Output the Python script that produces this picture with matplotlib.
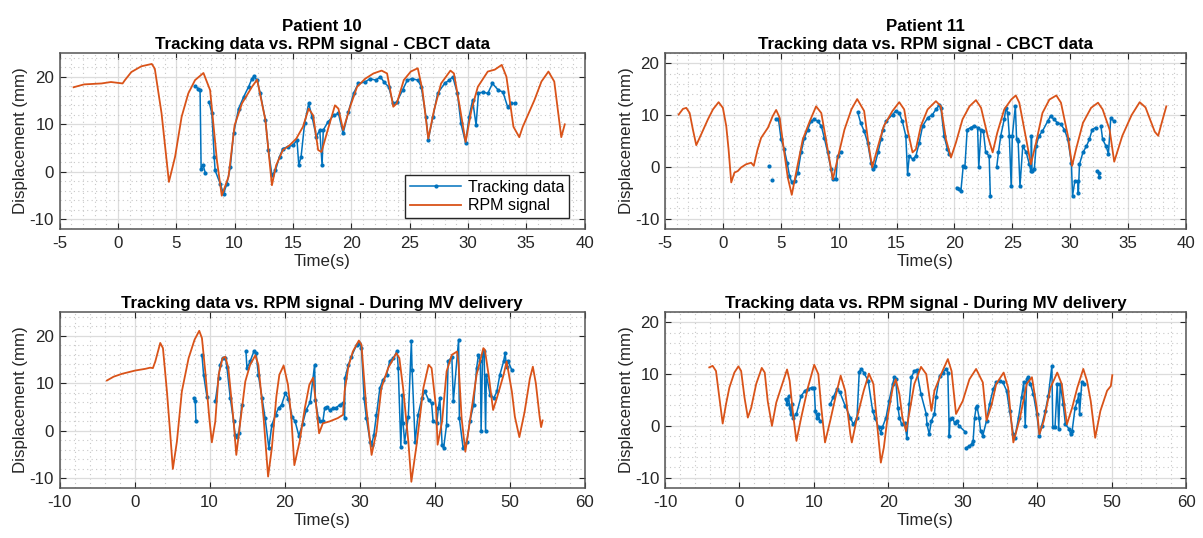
import matplotlib
matplotlib.use("Agg")
import matplotlib.pyplot as plt
from matplotlib.ticker import MultipleLocator

plt.rcParams['font.family'] = ['Liberation Sans', 'DejaVu Sans']
plt.rcParams['axes.unicode_minus'] = False

# ---------------- Patient 10 - CBCT ----------------
p10_cbct_rpm_t = [-3.8, -2.9, -1.4, -0.6, 0.4, 0.6, 1.15, 2.0, 2.9, 3.16, 3.74, 4.37, 4.9, 5.46, 6.03, 6.61,
                  7.33, 7.9, 8.48, 8.9, 9.48, 10.0, 10.63, 11.49, 11.93, 12.64, 13.2, 13.56, 14.14, 14.71,
                  15.29, 15.86, 16.35, 16.73, 17.16, 17.45, 17.9, 18.6, 18.9, 19.3, 19.9, 20.5, 21.2, 21.9,
                  22.6, 23.07, 23.6, 23.9, 24.5, 25.1, 25.7, 26.1, 26.6, 27.1, 27.7, 28.5, 28.8, 29.3, 29.8,
                  30.3, 30.85, 31.7, 32.3, 32.9, 33.3, 33.9, 34.4, 34.7, 35.7, 36.3, 36.9, 37.4, 38.0, 38.3]
p10_cbct_rpm_y = [17.8, 18.4, 18.6, 18.9, 18.6, 19.3, 21.0, 22.2, 22.7, 21.7, 12.3, -2.1, 3.2, 11.6, 16.5, 19.3,
                  20.8, 17.2, 2.5, -5.0, -1.0, 9.8, 14.4, 17.9, 19.4, 10.9, -2.8, 1.4, 4.6, 5.6,
                  7.0, 9.5, 13.3, 11.9, 4.6, 4.2, 8.1, 14.0, 13.3, 8.8, 13.7, 17.9, 19.6, 20.7,
                  21.3, 20.7, 13.7, 14.4, 19.3, 21.1, 21.8, 17.2, 7.0, 13.0, 18.6, 21.3, 20.7, 13.7, 6.3,
                  13.0, 17.9, 21.1, 21.5, 22.5, 20.0, 9.5, 7.3, 9.5, 15.1, 19.0, 21.1, 19.0, 7.3, 10.0]
p10_cbct_trk_t = [6.61, 6.9, 7.04, 7.13, 7.3, 7.5, None, 7.82, 8.05, 8.25, 8.33, 8.77, 9.05, 9.34, 9.63, 9.91,
                  10.34, 10.78, 11.2, 11.49, 11.64, 11.93, 12.2, 12.64, 12.9, 13.2, 13.5, 13.85, 14.14, 14.57,
                  15.0, 15.35, 15.5, 15.7, 16.0, 16.35, 16.64, 17.0, 17.3, 17.5, 17.6, 18.0, 18.5, 18.9, 19.3,
                  19.75, 20.2, 20.6, 21.2, 21.6, 22.1, 22.5, 22.8, 23.2, 23.6, 23.9, 24.4, 24.8, 25.2, 25.7,
                  26.0, 26.4, 26.6, 27.0, 27.4, 28.0, 28.4, 28.7, 29.1, 29.4, 29.8, 30.1, 30.4, 30.7, 30.9,
                  31.3, 31.7, 32.1, 32.6, 33.0, 33.4, 33.7, 34.0]
p10_cbct_trk_y = [18.0, 17.5, 17.3, 0.7, 1.4, -0.3, None, 14.7, 12.3, 3.2, 0.3, -2.5, -4.6, -2.5, 1.0, 8.1,
                  13.3, 15.8, 17.9, 19.6, 20.1, 19.3, 16.5, 10.9, 4.6, -0.7, 0.3, 3.2, 4.9, 5.3,
                  5.6, 6.7, 1.4, 3.2, 10.2, 14.4, 11.6, 7.4, 8.8, 1.4, 8.8, 10.5, 11.9, 12.3, 8.1,
                  12.6, 16.5, 18.6, 18.9, 19.6, 19.3, 20.0, 18.9, 17.9, 14.4, 14.7, 17.2, 19.3, 19.6, 19.3,
                  17.9, 11.6, 6.8, 11.6, 16.5, 18.6, 19.3, 20.0, 16.5, 10.2, 6.1, 11.6, 15.1, 9.8, 16.5,
                  16.8, 16.5, 18.6, 17.2, 16.8, 13.7, 14.4, 14.4]

# ---------------- Patient 11 - CBCT ----------------
p11_cbct_rpm_t = [-3.82, -3.45, -3.16, -2.87, -2.59, -2.3, -1.87, -1.29, -0.86, -0.37, 0.0, 0.29, 0.49, 0.72,
                  1.0, 1.29, 1.58, 2.0, 2.44, 2.67, 3.0, 3.3, 3.9, 4.3, 4.6, 4.9, 5.3, 5.6, 5.95, 6.3, 6.9,
                  7.5, 8.05, 8.5, 9.05, 9.5, 9.9, 10.5, 11.1, 11.6, 12.2, 12.6, 12.9, 13.4, 13.9, 14.65,
                  15.23, 15.66, 15.95, 16.38, 16.67, 17.1, 17.68, 18.4, 18.83, 19.27, 19.7, 20.13, 20.7,
                  21.3, 21.86, 22.3, 22.87, 23.3, 23.7, 24.3, 24.9, 25.3, 25.6, 26.2, 26.6, 27.05, 27.6,
                  28.2, 28.8, 29.2, 29.8, 30.16, 30.5, 31.1, 31.8, 32.4, 32.8, 33.4, 33.8, 34.5, 35.3,
                  36.0, 36.5, 37.3, 37.6, 37.9, 38.3]
p11_cbct_rpm_y = [10.1, 11.2, 11.4, 10.4, 7.2, 4.2, 6.3, 9.2, 11.1, 12.5, 11.4, 7.9, 3.4, -3.0,
                  -1.1, -0.8, -0.1, 0.5, 0.8, 0.2, 3.4, 5.6, 7.6, 9.8, 11.0, 9.5, 2.8, -2.0, -5.4, -1.4, 5.3,
                  8.8, 11.7, 10.4, 3.4, -2.4, 1.5, 7.2, 11.1, 13.1, 10.8, 4.0, -0.1, 4.0, 7.9, 10.8,
                  12.5, 11.1, 7.2, 2.8, 3.4, 7.9, 11.1, 12.7, 11.7, 5.3, 1.8, 4.7, 9.2,
                  11.7, 12.9, 11.4, 6.0, 2.8, 6.6, 11.1, 13.0, 13.8, 12.4, 5.3, 0.5, 4.7, 10.4,
                  13.0, 13.8, 12.4, 6.0, 0.2, 3.4, 8.5, 11.4, 12.4, 11.1, 7.2, 1.0, 6.0, 10.0,
                  12.5, 11.5, 6.8, 6.0, 8.5, 11.7]
p11_cbct_trk_t = [3.97, None, 4.22, None, 4.6, 4.8, 5.03, 5.3, 5.55, 5.75, 5.95, 6.2, 6.47, 6.75, 7.04, 7.33,
                  7.6, 7.9, 8.2, 8.5, 8.76, 9.05, 9.34, 9.48, 9.77, 9.9, 10.2, None,
                  11.64, 11.9, 12.2, 12.5, 12.8, 12.93, 13.1, 13.4, 13.65, 13.8, 14.1, 14.65, 14.94, 15.23,
                  15.5, 15.8, 15.95, 16.1, 16.4, 16.67, 16.96, 17.25, 17.7, 18.1, 18.4, 18.7, 18.83, 19.1,
                  19.4, 19.55, None, 20.19, 20.4, 20.56, 20.76, 20.9, 21.1, 21.4, 21.7, 22.0, 22.1, 22.3,
                  22.5, 22.7, 23.0, 23.1, None, 23.65, 23.8, 24.0, 24.3, 24.45, 24.6, 24.74, 24.9, 25.0,
                  25.26, 25.37, 25.5, 25.66, 25.9, 26.2, 26.47, 26.6, 26.65, 26.7, 26.9, 27.05, 27.3, 27.6,
                  28.05, 28.3, 28.6, 28.9, 29.2, 29.5, 29.8, 30.1, 30.2, 30.4, 30.65, 30.7, 30.8, 31.1,
                  31.4, 31.65, 31.9, 32.2, None, 32.3, 32.45, 32.5, None, 32.65, 32.8, 33.1, 33.3, 33.5, 33.8]
p11_cbct_trk_y = [0.1, None, -2.6, None, 9.3, 9.2, 5.3, 3.4, 0.8, -1.7, -3.0, -2.7, -1.1, 2.8, 5.6, 7.2,
                  8.8, 9.2, 8.8, 7.9, 5.6, 2.8, -0.45, -2.4, -2.4, 2.1, 2.8, None,
                  10.6, 8.5, 6.9, 4.7, 0.8, -0.45, 0.2, 2.8, 5.3, 7.2, 8.8, 10.1, 10.8, 10.4,
                  8.8, 6.0, -1.4, 2.1, 1.5, 2.1, 4.7, 7.9, 9.5, 10.1, 11.1, 12.0, 11.4, 6.0,
                  3.4, 2.4, None, -4.0, -4.3, -4.6, 0.2, -0.1, 7.2, 7.6, 7.9, 7.6, -0.1, 7.2,
                  6.9, 2.8, 2.1, -5.7, None, -0.1, 2.8, 6.0, 9.2, 11.4, 10.4, 6.0, -3.7, 6.0,
                  11.7, 5.3, 5.0, -3.7, 4.0, 2.8, 0.5, -0.8, 6.0, -0.8, -0.45, 4.0, 6.0, 6.9,
                  8.8, 9.8, 9.2, 8.5, 8.2, 7.2, 5.3, 0.8, -5.6, -2.7, -2.7, -5.1, 0.5, 2.8,
                  4.0, 5.3, 7.2, 7.6, None, -0.8, -1.1, -2.0, None, 7.9, 5.3, 4.0, 2.5, 9.4, 8.8]

# ---------------- Patient 10 - MV delivery ----------------
p10_mv_rpm_t = [-3.69, -2.8, -1.69, 0.09, 1.42, 2.09, 2.44, 2.76, 3.42, 3.78, 4.31, 4.76, 5.1, 5.64, 6.3, 7.2,
                8.0, 8.62, 8.98, 9.42, 9.96, 10.3, 10.76, 11.2, 11.73, 12.1, 12.5, 13.2, 13.56, 14.1, 14.76,
                15.4, 16.1, 16.5, 17.2, 17.8, 18.3, 18.9, 19.3, 19.87, 20.45, 20.9, 21.3, 22.0, 22.7, 23.3,
                23.8, 24.1, 24.6, 25.1, 26.0, 27.1, 27.8, 28.0, 28.5, 29.1, 29.9, 30.25, 30.9, 31.6, 32.25,
                32.9, 33.8, 34.9, 35.3, 35.8, 36.5, 36.9, 37.6, 38.5, 39.2, 39.6, 40.2, 40.4, 41.0, 41.6,
                42.3, 43.0, 43.2, 43.6, 44.1, 44.7, 45.6, 46.5, 46.7, 47.2, 47.8, 48.3, 49.2, 49.6, 50.3,
                50.7, 51.3, 52.0, 52.7, 53.1, 53.5, 54.0, 54.2, 54.4]
p10_mv_rpm_y = [10.6, 11.4, 12.0, 12.7, 13.05, 13.3, 13.2, 14.6, 18.5, 17.4, 8.3, -0.8, -8.0, -2.25, 8.3, 15.3,
                19.2, 21.05, 19.5, 12.5, 2.7, -2.4, 2.0, 11.8, 15.3, 15.6, 13.2, 2.0, -5.05, 2.0, 10.4,
                13.9, 15.9, 13.9, 2.7, -9.6, -3.6, 7.2, 11.8, 13.75, 9.7, 2.7, -7.2, -2.25, 4.8, 9.7,
                11.2, 6.9, -0.5, 1.6, 2.0, 2.7, 3.4, 8.3, 13.5, 16.7, 19.0, 18.1, 4.8, -5.05, -0.14,
                9.0, 13.2, 16.35, 15.3, 9.0, -2.25, -10.7, -2.9, 9.0, 13.9, 13.2, 4.8, -2.9, 2.0, 12.5,
                16.0, 16.7, 13.9, 2.7, -4.35, 2.0, 11.8, 17.4, 17.05, 11.8, 4.4, 6.9, 11.8, 14.6, 8.3,
                3.0, -1.3, 4.0, 11.0, 13.5, 10.0, 3.0, 0.8, 2.2]
p10_mv_trk_t = [7.87, 8.09, 8.18, None, 8.98, 9.2, 9.64, None, 10.76, 11.2, 11.4, 11.73, 12.1, 12.3, 12.76,
                13.2, 13.4, 13.6, 13.9, 14.3, None, 14.84, 14.98, 15.4, 15.9, 16.2, 16.5, 17.0, 17.4, 17.9,
                18.3, 18.8, 19.2, 19.6, 20.1, 20.5, 21.0, 21.4, 21.9, 22.4, 22.9, 23.4, 24.0, 24.1, 24.5,
                24.7, 25.1, 25.35, 25.6, 26.0, 26.5, 26.9, 27.35, 27.8, 28.0, 28.05, 28.5, 28.9, 29.6,
                29.9, 30.25, 30.6, 30.9, 31.4, 31.6, 31.9, 32.25, 32.7, 33.1, 33.6, 34.0, 34.5, 35.0,
                35.15, 35.5, 35.7, 35.8, 36.0, 36.5, 36.9, 37.0, 37.4, 37.8, 38.3, 38.7, 39.2, 39.6,
                39.8, 40.3, 40.5, 40.7, 41.0, 41.2, 41.6, 41.8, 42.3, 42.5, 43.2, 43.3, 43.8, 44.3, 44.7,
                45.2, 45.6, 45.85, 46.1, 46.2, 46.4, 46.6, 46.8, 46.9, 47.4, 47.9, 48.3, 48.7, 49.2, 49.4,
                49.6, 49.8, 50.3]
p10_mv_trk_y = [6.9, 6.2, 2.1, None, 16.0, 11.8, 7.2, None, 6.2, 11.1, 13.9, 15.3, 15.4, 13.5, 6.9,
                2.0, -0.8, -1.2, -0.5, 5.5, None, 16.8, 13.2, 14.6, 16.7, 16.35, 11.8, 6.9, 2.7, -3.6,
                1.3, 3.4, 4.8, 5.5, 7.9, 6.8, 3.0, 2.0, -1.0, 1.5, 4.5, 6.0, 13.9, 6.5, 2.7,
                2.0, 2.0, 4.8, 5.1, 4.4, 4.8, 4.9, 5.5, 5.8, 2.7, 11.1, 13.9, 15.6, 18.1,
                18.5, 17.4, 6.9, 2.7, -2.25, -2.9, -0.8, 3.4, 9.0, 10.7, 11.8, 14.6, 15.3, 16.8,
                13.2, -3.3, 7.6, 1.6, -2.25, 3.0, 18.8, 12.8, -2.25, 3.4, 6.9, 8.3, 6.5, 5.8,
                2.0, 1.6, 4.8, 6.9, -2.9, -3.6, 1.3, 14.6, 15.6, 6.2, 19.2, 2.7, -3.6, -2.25, 2.0,
                5.5, 13.2, 16.0, 14.6, -0.1, 16.0, 16.7, -0.1, 11.8, 7.6, 6.9, 8.3, 11.8, 14.6, 16.35,
                13.5, 14.6, 12.8]

# ---------------- Patient 11 - MV delivery ----------------
p11_mv_rpm_t = [-4.05, -3.6, -3.15, -2.7, -2.25, -1.8, -1.35, -0.68, -0.14, 0.23, 0.68, 1.13, 1.58, 2.25,
                3.0, 3.4, 3.8, 4.37, 4.95, 5.6, 6.4, 6.75, 7.2, 7.66, 8.3, 9.2, 10.05, 10.6, 11.0, 11.5,
                12.2, 13.1, 13.6, 14.2, 14.9, 15.1, 15.8, 16.7, 17.4, 18.0, 18.5, 19.0, 19.4, 19.9, 20.6,
                21.0, 21.5, 21.9, 22.4, 22.8, 23.5, 24.4, 25.1, 25.8, 26.2, 27.1, 28.0, 28.5, 29.1, 30.0,
                30.9, 31.8, 32.7, 33.2, 33.9, 34.5, 35.5, 36.1, 36.8, 37.7, 38.6, 39.3, 39.95, 40.3, 40.9,
                41.8, 42.7, 43.3, 44.0, 44.7, 45.4, 46.2, 46.7, 47.2, 47.8, 48.5, 49.4, 49.9, 50.1]
p11_mv_rpm_y = [11.3, 11.6, 10.6, 5.5, 0.45, 4.2, 7.4, 10.3, 11.5, 10.6, 5.5, 1.6, 3.5, 8.1,
                11.2, 10.3, 4.8, 0.0, 4.5, 7.4, 10.9, 8.7, 2.3, -2.9, 1.6, 7.4, 11.8, 10.0, 3.5, -3.2,
                1.0, 6.8, 9.7, 6.8, -1.6, -3.2, 1.6, 6.8, 10.1, 8.1, 0.3, -7.1, -4.2, 1.6, 7.4,
                9.0, 6.1, 1.6, -1.0, 2.3, 8.1, 11.4, 10.0, 2.9, 6.8, 10.0, 12.9, 10.6, 2.3, 4.8,
                9.0, 11.0, 8.4, 1.0, 4.2, 8.1, 10.3, 7.4, -3.2, 1.6, 8.1, 9.4, 3.5, -1.6, 1.0,
                7.4, 10.3, 8.1, 0.3, 3.5, 7.4, 11.0, 8.7, 4.8, -2.3, 2.9, 6.8, 7.7, 9.8]
p11_mv_trk_t = [6.2, 6.4, 6.6, 6.75, 6.9, 7.0, 7.2, 7.66, 8.3, 8.8, 9.2, 9.7, 10.05, 10.2, 10.4, 10.6, 10.8,
                None, 12.2, 12.6, 13.1, 13.5, 14.2, 14.9, 15.3, 15.8, 16.1, 16.4, 16.7, 17.3, 17.9, 18.2,
                18.7, 19.0, 19.2, 19.7, 20.1, 20.6, 20.8, 21.0, 21.3, 21.5, 21.8, 22.2, 22.5, 22.8, 23.1,
                23.5, 23.8, 24.4, 25.1, 25.2, 25.5, 25.8, 26.2, 26.4, 26.9, 27.3, 27.8, 28.0, 28.2, 28.3,
                28.6, 28.9, 29.2, 29.5, 30.3, None, 30.5, 30.9, 31.2, 31.4, 31.6, 31.8, 31.9, 32.2, 32.4,
                32.7, 33.2, 33.6, 34.1, 34.5, 35.0, 35.4, 35.9, 36.3, 36.8, 37.0, 37.5, 37.9, 38.2, 38.4,
                38.6, 38.8, 39.1, 39.5, 39.95, 40.3, 40.6, 41.1, 41.5, 41.98, 42.1, 42.4, 42.7, 42.9, 43.1,
                43.5, 43.8, 44.3, 44.5, 44.7, 45.1, 45.4, 45.6, 45.7, 46.0, 46.3]
p11_mv_trk_y = [5.2, 4.2, 5.8, 3.5, 2.3, 4.2, 1.6, 2.3, 5.8, 6.8, 7.1, 7.4, 7.4, 2.9, 1.6, 2.3, 1.0,
                None, 4.2, 5.5, 7.1, 6.5, 3.9, 1.6, 0.3, 1.6, 10.5, 11.0, 10.3, 8.7, 2.9, 1.6,
                -0.3, -1.3, -0.3, 1.6, 4.8, 8.1, 9.4, 9.0, 3.5, 1.6, 0.3, 0.6, -2.3, 4.2, 9.4,
                10.6, 10.8, 6.1, 2.3, 0.3, -1.6, 1.0, 2.3, 5.5, 9.7, 10.3, 11.0, 10.3, -1.9, 1.3,
                1.6, 0.6, 1.0, 0.0, -1.1, None, -4.2, -3.9, -3.5, -2.9, 1.6, 3.5, 3.9, 1.6, -1.0,
                -1.9, 1.0, 4.2, 7.1, 8.4, 8.7, 8.4, 6.8, 2.9, -1.6, -2.3, 1.6, 5.5, 8.4, 0.0,
                9.0, 9.4, 8.1, 6.1, 2.3, -1.9, 0.0, 2.9, 5.8, 11.6, -0.3, -0.3, 8.1, -0.6, 8.1,
                4.2, 0.3, -0.6, -1.6, -1.0, 3.5, 4.8, 6.1, 2.3, 8.4, 8.1]

BLUE = '#0072BD'
ORANGE = '#D95319'
TXT = '#262626'
FS = 12.2


def to_float(vals):
    return [float('nan') if v is None else v for v in vals]


def style_axes(ax, xlim, xmaj, xmin, ylim):
    ax.set_xlim(*xlim)
    ax.set_ylim(*ylim)
    ax.xaxis.set_major_locator(MultipleLocator(xmaj))
    ax.xaxis.set_minor_locator(MultipleLocator(xmin))
    ax.yaxis.set_major_locator(MultipleLocator(10))
    ax.yaxis.set_minor_locator(MultipleLocator(2))
    ax.grid(True, which='major', color='#DCDCDC', linewidth=0.9)
    ax.grid(True, which='minor', color='#C8C8C8', linestyle=(0, (1, 3)), linewidth=0.8)
    ax.set_axisbelow(True)
    ax.tick_params(which='both', direction='in', top=True, right=True, colors=TXT,
                   labelsize=FS, labelcolor=TXT)
    ax.tick_params(which='major', length=4)
    ax.tick_params(axis='x', which='major', pad=5)
    ax.tick_params(axis='y', which='major', pad=4)
    ax.tick_params(which='minor', length=0)
    for s in ax.spines.values():
        s.set_color('#555555')
        s.set_linewidth(1.1)
    ax.set_xlabel('Time(s)', fontsize=FS, color=TXT, labelpad=2)
    ax.set_ylabel('Displacement (mm)', fontsize=FS, color=TXT, labelpad=1)


fig = plt.figure(figsize=(12.03, 5.38), dpi=100)
W, H = 1203, 538
ax_tl = fig.add_axes([59.6 / W, 1 - 229 / H, 525 / W, 176 / H])
ax_tr = fig.add_axes([665 / W, 1 - 229 / H, 521 / W, 176 / H])
ax_bl = fig.add_axes([59.6 / W, 1 - 488 / H, 525 / W, 176 / H])
ax_br = fig.add_axes([665 / W, 1 - 488 / H, 521 / W, 176 / H])

panels = [
    (ax_tl, p10_cbct_trk_t, p10_cbct_trk_y, p10_cbct_rpm_t, p10_cbct_rpm_y, (-5, 40), 5, 1, (-12, 25),
     'Patient 10\nTracking data vs. RPM signal - CBCT data'),
    (ax_tr, p11_cbct_trk_t, p11_cbct_trk_y, p11_cbct_rpm_t, p11_cbct_rpm_y, (-5, 40), 5, 1, (-12, 22),
     'Patient 11\nTracking data vs. RPM signal - CBCT data'),
    (ax_bl, p10_mv_trk_t, p10_mv_trk_y, p10_mv_rpm_t, p10_mv_rpm_y, (-10, 60), 10, 2, (-12, 25),
     'Tracking data vs. RPM signal - During MV delivery'),
    (ax_br, p11_mv_trk_t, p11_mv_trk_y, p11_mv_rpm_t, p11_mv_rpm_y, (-10, 60), 10, 2, (-12, 22),
     'Tracking data vs. RPM signal - During MV delivery'),
]

for ax, tt, ty, rt, ry, xl, xmaj, xmin, yl, title in panels:
    style_axes(ax, xl, xmaj, xmin, yl)
    ax.plot(to_float(tt), to_float(ty), color=BLUE, linewidth=1.1, marker='.', markersize=4,
            label='Tracking data', zorder=3)
    ax.plot(rt, ry, color=ORANGE, linewidth=1.3, label='RPM signal', zorder=4)
    ax.set_title(title, fontsize=FS, fontweight='bold', color='black', pad=3, linespacing=1.2)

leg = ax_tl.legend(loc='lower right', bbox_to_anchor=(0.970, 0.0625), borderaxespad=0,
                   fontsize=11.5, fancybox=False, framealpha=1, edgecolor='#262626',
                   handlelength=3.2, borderpad=0.3, labelspacing=0.2, handletextpad=0.4)
leg.get_frame().set_linewidth(1.0)

fig.savefig('out.png', dpi=100)
